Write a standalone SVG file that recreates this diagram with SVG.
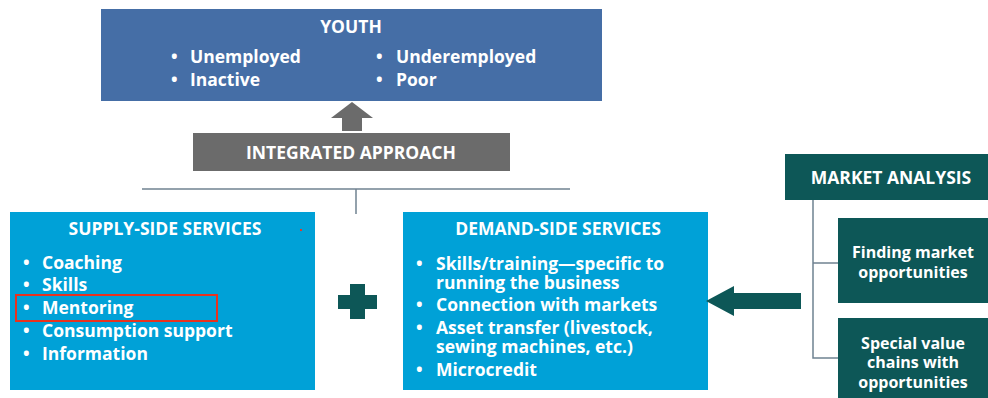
<svg xmlns="http://www.w3.org/2000/svg" width="988" height="398" viewBox="0 0 988 398">
  <style>
    text { font-family: "Open Sans", "Noto Sans", "Liberation Sans", sans-serif; font-weight: 700; fill: #ffffff; }
    .title { font-size: 17.5px; text-anchor: middle; }
    .item { font-size: 17.5px; }
    .sub { font-size: 16px; text-anchor: middle; }
    .wire { stroke: #6f8291; stroke-width: 1.5; fill: none; }
    .teal { fill: #0d5757; }
  </style>

  <rect width="988" height="398" fill="#ffffff"/>

  <!-- target group -->
  <g id="youth">
    <rect x="101" y="9" width="501" height="92" fill="#456ea6"/>
    <text class="title" x="351" y="33">YOUTH</text>
    <text class="item" x="171" y="63">•</text>
    <text class="item" x="190" y="63">Unemployed</text>
    <text class="item" x="171" y="86">•</text>
    <text class="item" x="190" y="86">Inactive</text>
    <text class="item" x="376" y="63">•</text>
    <text class="item" x="396" y="63">Underemployed</text>
    <text class="item" x="376" y="86">•</text>
    <text class="item" x="396" y="86">Poor</text>
  </g>

  <g id="integrated-approach">
    <rect x="193" y="133" width="317" height="38" fill="#6b6b6b"/>
    <text class="title" x="351" y="159">INTEGRATED APPROACH</text>
  </g>

  <g id="supply-side">
    <rect x="10" y="212" width="305" height="178" fill="#00a1d7"/>
    <text class="title" x="165" y="235">SUPPLY-SIDE SERVICES</text>
    <rect x="300" y="229" width="2" height="2" fill="#e03a2a"/>
    <text class="item" x="23" y="269">•</text>
    <text class="item" x="42" y="269">Coaching</text>
    <text class="item" x="23" y="291">•</text>
    <text class="item" x="42" y="291">Skills</text>
    <text class="item" x="23" y="314">•</text>
    <text class="item" x="42" y="314">Mentoring</text>
    <text class="item" x="23" y="337">•</text>
    <text class="item" x="42" y="337">Consumption support</text>
    <text class="item" x="23" y="360">•</text>
    <text class="item" x="42" y="360">Information</text>
    <rect x="16" y="295" width="201" height="26" fill="none" stroke="#e8321e" stroke-width="2"/>
  </g>

  <g id="plus">
    <rect x="338" y="295" width="39" height="14" class="teal"/>
    <rect x="350" y="284" width="15" height="35" class="teal"/>
  </g>

  <g id="demand-side">
    <rect x="403" y="212" width="305" height="178" fill="#00a1d7"/>
    <text class="title" x="558" y="235">DEMAND-SIDE SERVICES</text>
    <text class="item" x="416" y="270">•</text>
    <text class="item" x="436" y="270">Skills/training—specific to</text>
    <text class="item" x="436" y="289">running the business</text>
    <text class="item" x="416" y="311">•</text>
    <text class="item" x="436" y="311">Connection with markets</text>
    <text class="item" x="416" y="334">•</text>
    <text class="item" x="436" y="334">Asset transfer (livestock,</text>
    <text class="item" x="436" y="353">sewing machines, etc.)</text>
    <text class="item" x="416" y="376">•</text>
    <text class="item" x="436" y="376">Microcredit</text>
  </g>

  <g id="market-analysis">
    <rect x="785" y="154" width="203" height="46" class="teal"/>
    <text class="title" x="891" y="184">MARKET ANALYSIS</text>
  </g>

  <g id="finding-market">
    <rect x="838" y="218" width="150" height="85" class="teal"/>
    <text class="sub" x="913" y="258">Finding market</text>
    <text class="sub" x="913" y="278">opportunities</text>
  </g>

  <g id="value-chains">
    <rect x="838" y="318" width="150" height="80" class="teal"/>
    <text class="sub" x="913" y="349">Special value</text>
    <text class="sub" x="913" y="368">chains with</text>
    <text class="sub" x="913" y="388">opportunities</text>
  </g>

  <g id="connectors">
    <!-- integrated approach lifts youth -->
    <polygon points="352,102 373,118 362,118 362,131 342,131 342,118 331,118" fill="#6b6b6b"/>
    <!-- bracket joining both service boxes -->
    <line class="wire" x1="142" y1="189" x2="570" y2="189"/>
    <line class="wire" x1="356" y1="189" x2="356" y2="214"/>
    <!-- market analysis feeds demand side -->
    <polygon points="706,301 734,286 734,293 801,293 801,309 734,309 734,316" class="teal"/>
    <!-- market analysis tree -->
    <polyline class="wire" points="813,200 813,358 838,358"/>
    <line class="wire" x1="813" y1="263" x2="838" y2="263"/>
  </g>
</svg>
